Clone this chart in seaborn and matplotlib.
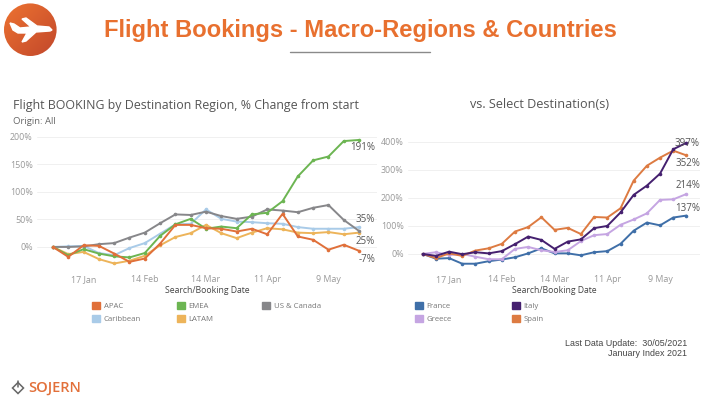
import matplotlib
matplotlib.use('Agg')
import matplotlib.pyplot as plt
from matplotlib.patches import Circle, Polygon, Patch
from matplotlib.lines import Line2D
import seaborn as sns
import numpy as np
import pandas as pd

dates = pd.date_range('2021-01-03', periods=21, freq='7D')
tick_dates = pd.to_datetime(['2021-01-17', '2021-02-14', '2021-03-14', '2021-04-11', '2021-05-09'])
tick_labels = ['17 Jan', '14 Feb', '14 Mar', '11 Apr', '9 May']

apac = [0, -18, 3, 2, -12, -27, -21, 6, 40, 40, 34, 33, 28, 33, 23, 60, 19, 13, -5, 4, -7]
emea = [0, -15, -4, -12, -17, -19, -11, 20, 41, 51, 33, 37, 34, 59, 62, 83, 128, 157, 164, 192, 194]
us_canada = [0, 0, 1, 5, 7, 17, 26, 43, 59, 58, 64, 56, 51, 55, 68, 66, 63, 71, 76, 49, 29]
caribbean = [0, 1, 2, -11, -15, -2, 7, 24, 41, 42, 68, 51, 46, 45, 43, 42, 36, 33, 33, 33, 36]
latam = [0, -13, -9, -22, -30, -25, -16, 3, 18, 25, 40, 25, 16, 26, 34, 32, 26, 25, 27, 23, 26]

france = [0, -17, -15, -35, -35, -26, -20, -12, 2, 20, 2, 2, -5, 6, 10, 36, 83, 112, 102, 130, 137]
italy = [0, -7, 8, -1, 6, 2, 10, 35, 62, 50, 18, 44, 52, 92, 100, 148, 211, 244, 287, 374, 397]
greece = [0, 6, -4, 0, -10, -19, -19, 18, 25, 13, 7, 13, 46, 67, 71, 104, 123, 145, 193, 195, 214]
spain = [0, -15, 2, -7, 12, 20, 36, 80, 96, 131, 86, 93, 71, 132, 130, 163, 262, 315, 344, 369, 352]

region_colors = {'APAC': '#e0703a', 'EMEA': '#6cb552', 'US & Canada': '#87878a',
                 'Caribbean': '#a9cbe8', 'LATAM': '#edb45a'}
country_colors = {'France': '#3f6fa8', 'Italy': '#45206f', 'Greece': '#c5a5e2', 'Spain': '#dd7b42'}

regions = pd.DataFrame({'date': dates, 'APAC': apac, 'EMEA': emea, 'US & Canada': us_canada,
                        'Caribbean': caribbean, 'LATAM': latam}).melt('date', var_name='region', value_name='pct')
countries = pd.DataFrame({'date': dates, 'France': france, 'Italy': italy,
                          'Greece': greece, 'Spain': spain}).melt('date', var_name='country', value_name='pct')

W, H = 720, 405
sns.set_theme(style='white')
plt.rcParams['font.family'] = ['Open Sans', 'DejaVu Sans']
fig = plt.figure(figsize=(7.2, 4.05), dpi=100, facecolor='white')


def px_text(x, y, s, **kw):
    kw.setdefault('va', 'center')
    return fig.text(x / W, 1 - y / H, s, **kw)


def px_axes(x0, y0, x1, y1):
    return fig.add_axes([x0 / W, 1 - y1 / H, (x1 - x0) / W, (y1 - y0) / H])


def style_axes(ax, yticks, ylim, pad_l, pad_r):
    ax.set_xlim(dates[0] - pd.Timedelta(days=pad_l), dates[-1] + pd.Timedelta(days=pad_r))
    ax.set_ylim(*ylim)
    ax.set_yticks(yticks)
    ax.set_yticklabels([f'{v}%' for v in yticks])
    ax.set_xticks(tick_dates)
    ax.set_xticklabels(tick_labels)
    ax.tick_params(axis='both', length=0, labelsize=6.4, labelcolor='#999999', pad=3)
    ax.grid(axis='y', color='#f0f0f0', lw=0.7)
    ax.set_axisbelow(True)
    sns.despine(ax=ax, left=True, bottom=True)
    ax.set_xlabel('Search/Booking Date', fontsize=6.2, color='#444444', labelpad=1)
    ax.set_ylabel('')


def legend_column(names, colors, x):
    # one legend per column so the columns stay evenly spaced
    handles = [Patch(color=colors[k], label=k) for k in names]
    leg = fig.legend(handles=handles, frameon=False, fontsize=5.6, labelcolor='#777777',
                     loc='upper left', bbox_to_anchor=(x / W, 1 - 302 / H),
                     handlelength=1.03, handleheight=1.03, handletextpad=0.45,
                     labelspacing=0.62, borderpad=0, borderaxespad=0)
    return leg


# left chart
ax1 = px_axes(37, 135, 377, 271)
sns.lineplot(data=regions, x='date', y='pct', hue='region',
             hue_order=['Caribbean', 'LATAM', 'US & Canada', 'EMEA', 'APAC'],
             palette=region_colors, marker='o', markersize=2.6, markeredgewidth=0,
             linewidth=1.4, legend=False, ax=ax1)
style_axes(ax1, [0, 50, 100, 150, 200], (-43.6, 203), 7.3, 8.2)
legend_column(['APAC', 'Caribbean'], region_colors, 92)
legend_column(['EMEA', 'LATAM'], region_colors, 177)
legend_column(['US & Canada'], region_colors, 262)

# right chart
ax2 = px_axes(408, 140, 700, 271)
sns.lineplot(data=countries, x='date', y='pct', hue='country',
             hue_order=['France', 'Greece', 'Spain', 'Italy'],
             palette=country_colors, marker='o', markersize=2.6, markeredgewidth=0,
             linewidth=1.4, legend=False, ax=ax2)
style_axes(ax2, [0, 100, 200, 300, 400], (-61, 407), 7.8, 7.2)
legend_column(['France', 'Greece'], country_colors, 415)
legend_column(['Italy', 'Spain'], country_colors, 512)

# end labels
for x, y, s in [(375, 148, '191%'), (375, 220, '35%'), (375, 241, '25%'), (375, 259, '-7%'),
                (700, 143, '397%'), (700, 163, '352%'), (700, 186, '214%'), (700, 208, '137%')]:
    px_text(x, y, s, ha='right', fontsize=7, color='#555555')

# titles
px_text(13, 105, 'Flight BOOKING by Destination Region, % Change from start', fontsize=8.9, color='#555555')
px_text(13, 121, 'Origin: All', fontsize=6.8, color='#666666')
px_text(470, 105, 'vs. Select Destination(s)', fontsize=9.1, color='#555555')
px_text(360, 31, 'Flight Bookings - Macro-Regions & Countries', ha='center', fontsize=17.1,
        fontweight='bold', color='#e8702f', family='Liberation Sans')
fig.add_artist(Line2D([290 / W, 430 / W], [1 - 52 / H, 1 - 52 / H], color='#8a8a8a', lw=1))

# footer
px_text(687, 343, 'Last Data Update:  30/05/2021', ha='right', fontsize=6.4, color='#444444', family='Liberation Sans')
px_text(687, 354, 'January Index 2021', ha='right', fontsize=6.4, color='#444444', family='Liberation Sans')

# logos, drawn in pixel space on a full figure overlay
deco = fig.add_axes([0, 0, 1, 1], zorder=-1)
gx, gy = np.meshgrid(np.linspace(0, 1, 60), np.linspace(0, 1, 60))
shade = np.dstack([0.93 - 0.17 * (gx + gy) / 2, 0.45 - 0.17 * (gx + gy) / 2, 0.19 - 0.02 * (gx + gy) / 2])
img = deco.imshow(shade, extent=(4, 57, 56, 3), aspect='auto')
img.set_clip_path(Circle((30.3, 29.7), 26.3, transform=deco.transData))
deco.set_xlim(0, W)
deco.set_ylim(H, 0)
deco.axis('off')
plane = [(10, 23), (14, 24), (20, 28), (31, 27), (22, 19), (26, 18), (37, 26), (49, 27), (52, 30), (50, 31),
         (36, 32), (26, 41), (22, 42), (27, 33), (18, 33), (13, 30)]
deco.add_patch(Polygon(plane, closed=True, color='white'))
deco.add_patch(Polygon([(18, 382.5), (23.5, 388), (18, 393.5), (12.5, 388)], closed=True, fill=False, ec='#666666', lw=1.1))
deco.plot([18, 18], [380.5, 387], color='#666666', lw=1.1)
px_text(28, 388, 'SOJERN', fontsize=10.5, color='#e2703a', fontweight='semibold')

fig.savefig('out.png', dpi=100)
